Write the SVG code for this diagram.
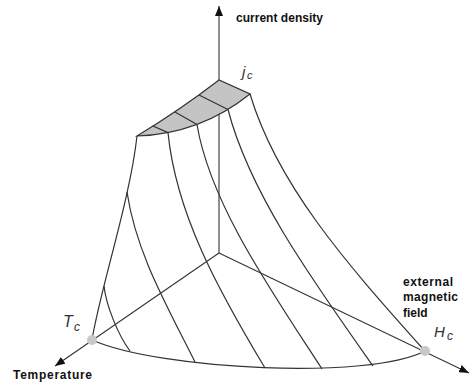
<svg xmlns="http://www.w3.org/2000/svg" width="471" height="385" viewBox="0 0 471 385">
  <style>
    .ax { stroke: #333; stroke-width: 1.1; fill: none; }
    .cv { stroke: #333; stroke-width: 1.2; fill: none; }
    .lbl { font-family: "Liberation Sans", Arial, sans-serif; font-weight: bold; font-size: 12px; fill: #111; }
    .it { font-family: "Liberation Sans", Arial, sans-serif; font-style: italic; fill: #333; }
    .dot { fill: #c8c8c8; }
  </style>
  <defs>
    <marker id="arr" viewBox="0 0 10 8" refX="10" refY="4" markerWidth="10" markerHeight="8" markerUnits="userSpaceOnUse" orient="auto">
      <path d="M0,0 L10,4 L0,8 z" fill="#111"/>
    </marker>
  </defs>
  <rect width="471" height="385" fill="#fff"/>
  <g id="axes">
    <path class="ax" d="M219,253 L219,6" marker-end="url(#arr)"/>
    <path class="ax" d="M219,253 L55,366" marker-end="url(#arr)"/>
    <path class="ax" d="M219,253 L469,373" marker-end="url(#arr)"/>
  </g>
  <g id="top-surface">
    <path d="M137,136 Q180,110 219,80 L250,94 Q200,134 137,136 Z" fill="#c4c4c4" stroke="#333" stroke-width="1.2"/>
    <path class="cv" d="M199,95 L228,109.5 M175,112 L197,124.5 M153,126 L168,132.6"/>
  </g>
  <g id="connectors">
    <path class="cv" d="M137,136 C130,200 100,290 92,340"/>
    <path class="cv" d="M104,286 C106,305 118,335 130,351"/>
    <path class="cv" d="M127,192 C136,252 165,302 195,362"/>
    <path class="cv" d="M168,132.6 C176,213 217,288 265,368"/>
    <path class="cv" d="M197,124.5 C210,203 270,289 322,369"/>
    <path class="cv" d="M228,109.5 C250,194 313,281 373,366"/>
    <path class="cv" d="M250,94 C277,184 344,261 425,351"/>
    <path class="cv" d="M92,340 C160,370 370,380 425,351"/>
  </g>
  <g id="Tc">
    <circle class="dot" cx="92" cy="340" r="5"/>
    <text class="it" x="63" y="327" font-size="16">T</text>
    <text class="it" x="74" y="331" font-size="12">c</text>
  </g>
  <g id="Hc">
    <circle class="dot" cx="425" cy="351" r="5"/>
    <text class="it" x="434" y="337" font-size="15">H</text>
    <text class="it" x="447" y="340" font-size="12">c</text>
  </g>
  <g id="jc">
    <text class="it" x="242" y="77" font-size="15">j</text>
    <text class="it" x="247" y="79" font-size="11">c</text>
  </g>
  <g id="labels">
    <text class="lbl" x="236" y="22" textLength="87" lengthAdjust="spacing">current density</text>
    <text class="lbl" x="13" y="379" textLength="79" lengthAdjust="spacing">Temperature</text>
    <text class="lbl" x="403" y="286" textLength="50" lengthAdjust="spacing">external</text>
    <text class="lbl" x="403" y="301" textLength="55" lengthAdjust="spacing">magnetic</text>
    <text class="lbl" x="403" y="317">field</text>
  </g>
</svg>
